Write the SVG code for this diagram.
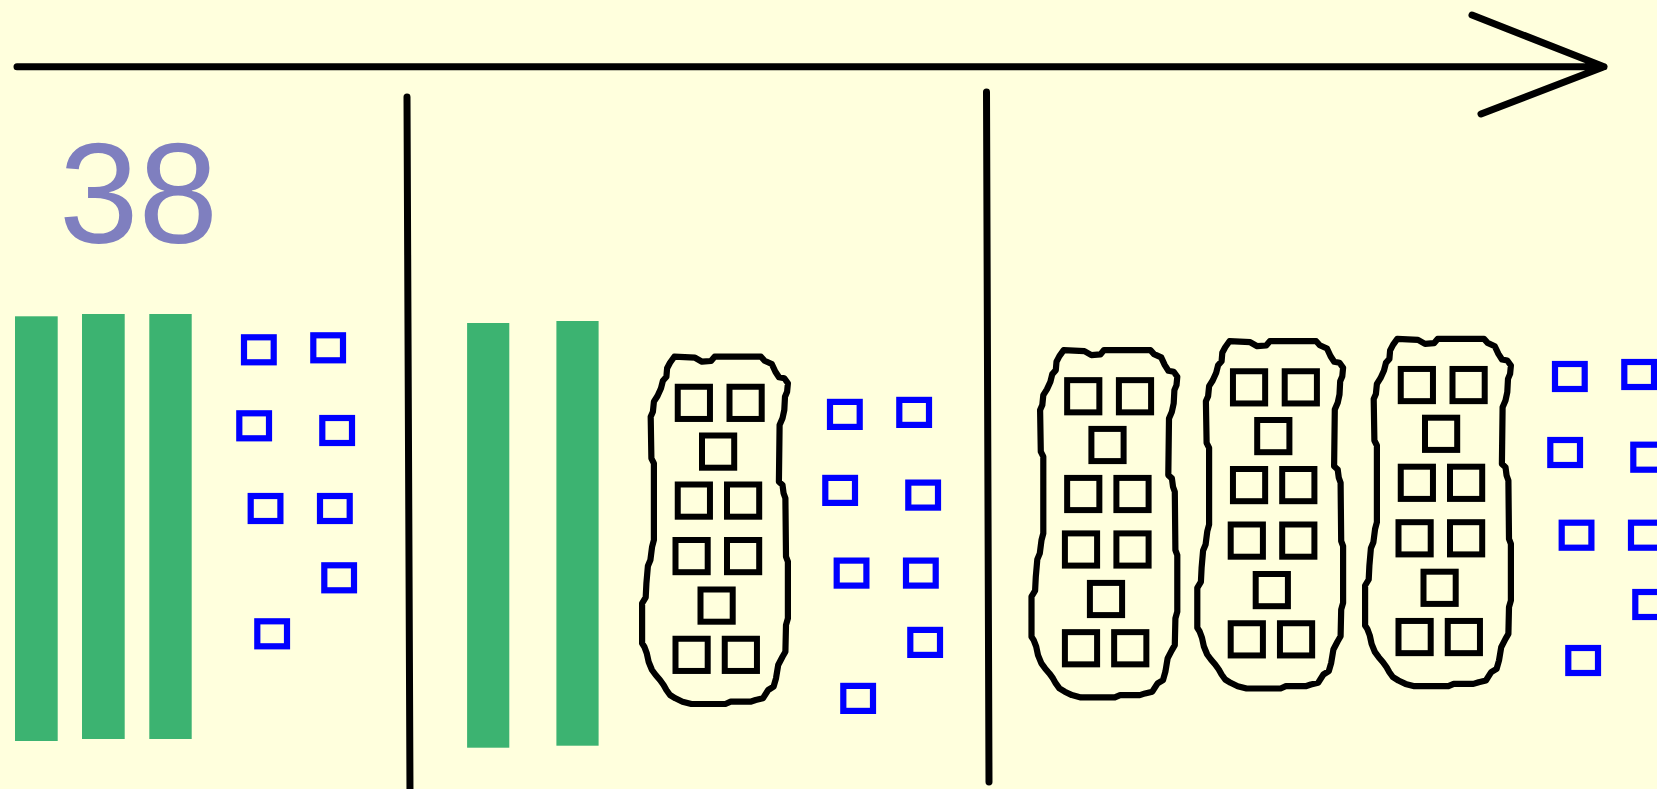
<svg xmlns="http://www.w3.org/2000/svg" xmlns:xlink="http://www.w3.org/1999/xlink" width="1657" height="789" viewBox="0 0 1657 789">
<style>
.ln{stroke:#000;stroke-width:7;stroke-linecap:round;stroke-linejoin:round;fill:none}
.bar{fill:#3cb371}
.bs{fill:none;stroke:#0000ff;stroke-width:6.2}
.ks{fill:none;stroke:#000;stroke-width:6}
.blob{fill:none;stroke:#000;stroke-width:6.2;stroke-linejoin:round;stroke-linecap:round}
.num{font-family:"Liberation Sans",Arial,sans-serif;font-size:143px;fill:#7f7fbf}
</style>
<defs>
<g id="ones">
<rect class="bs" x="244" y="337.3" width="29.7" height="25"/>
<rect class="bs" x="313.3" y="335.3" width="29.7" height="25"/>
<rect class="bs" x="239.3" y="413.3" width="29.7" height="25"/>
<rect class="bs" x="322.3" y="418" width="29.7" height="25"/>
<rect class="bs" x="250.7" y="496" width="29.7" height="25"/>
<rect class="bs" x="320" y="496" width="29.7" height="25"/>
<rect class="bs" x="324.3" y="565.3" width="29.7" height="25"/>
<rect class="bs" x="257.3" y="621.3" width="29.7" height="25"/>
</g>
<g id="tenblob">
<path class="blob" d="M674.3,356.7 L695,357.7 L702,361.7 L711,361 L714.6,356.7 L761,356.7 L764.6,360.7 L771.8,364 L775.4,371.7 L779,377.3 L784.3,378.3 L787.9,383.3 L787.1,391.7 L785,396.7 L784.3,410 L782.5,418.3 L779.6,425 L778.9,481.7 L782.5,485 L783.6,493.3 L785.4,498.3 L786,556.7 L787.9,561.7 L787.9,618.3 L786,625 L785.4,651.7 L782.5,656.7 L778.2,665 L776,678.3 L773.6,686.7 L768.2,690 L762.9,698.3 L755.7,700 L750.4,701.7 L730.7,701.7 L725.4,704 L691.4,704 L682.5,701.7 L675.4,698.3 L670,695 L666.4,690 L663.6,685 L660,680 L655.7,675 L652,670 L648.6,661.7 L646.8,653.3 L644.3,646.7 L642.1,643.3 L642.1,603.3 L645.7,597.3 L646.4,583.3 L647.9,566 L650.4,560 L652.1,546.7 L653.9,540 L653.9,463.3 L651.4,458.3 L650.7,416.7 L652.9,411.7 L653.9,401.7 L657.5,396 L661,388.3 L662.9,380.7 L666.4,376.7 L667.1,368.3 L670,362.7 Z"/>
<rect class="ks" x="677.75" y="386.75" width="32.2" height="32.2"/>
<rect class="ks" x="729.5" y="386.75" width="32.2" height="32.2"/>
<rect class="ks" x="702" y="435.5" width="32.2" height="32.2"/>
<rect class="ks" x="677.75" y="484.5" width="32.2" height="32.2"/>
<rect class="ks" x="727" y="484.5" width="32.2" height="32.2"/>
<rect class="ks" x="675.5" y="540" width="32.2" height="32.2"/>
<rect class="ks" x="727" y="540" width="32.2" height="32.2"/>
<rect class="ks" x="700.5" y="589.5" width="32.2" height="32.2"/>
<rect class="ks" x="675.5" y="638.75" width="32.2" height="32.2"/>
<rect class="ks" x="724.75" y="638.75" width="32.2" height="32.2"/>
</g>
</defs>
<rect x="0" y="0" width="1657" height="789" fill="#ffffdd"/>
<g id="connectors">
<path class="ln" d="M17,66.7 L1604,66.7 M1472,15 L1604,66.7 L1481,114"/>
<path class="ln" d="M407,97 L410,795"/>
<path class="ln" d="M986.5,92 L989,782"/>
</g>
<g id="label-38">
<text class="num" x="59" y="243">38</text>
</g>
<g id="section1">
<rect class="bar" x="15" y="316.3" width="42.7" height="424.7"/>
<rect class="bar" x="82" y="314" width="42.7" height="425"/>
<rect class="bar" x="149.3" y="314" width="42.4" height="425"/>
<use xlink:href="#ones"/>
</g>
<g id="section2">
<rect class="bar" x="467.1" y="323" width="42.2" height="424.7"/>
<rect class="bar" x="556.4" y="321" width="42.2" height="424.7"/>
<g id="blob1"><use xlink:href="#tenblob"/></g>
<use xlink:href="#ones" transform="translate(586,64.6)"/>
</g>
<g id="section3">
<g id="blobA"><use xlink:href="#tenblob" transform="translate(389.4,-6.6)"/></g>
<g id="blobB"><use xlink:href="#tenblob" transform="translate(555.2,-15.5)"/></g>
<g id="blobC"><use xlink:href="#tenblob" transform="translate(723,-17.8)"/></g>
<use xlink:href="#ones" transform="translate(1311,26.7)"/>
</g>
</svg>
